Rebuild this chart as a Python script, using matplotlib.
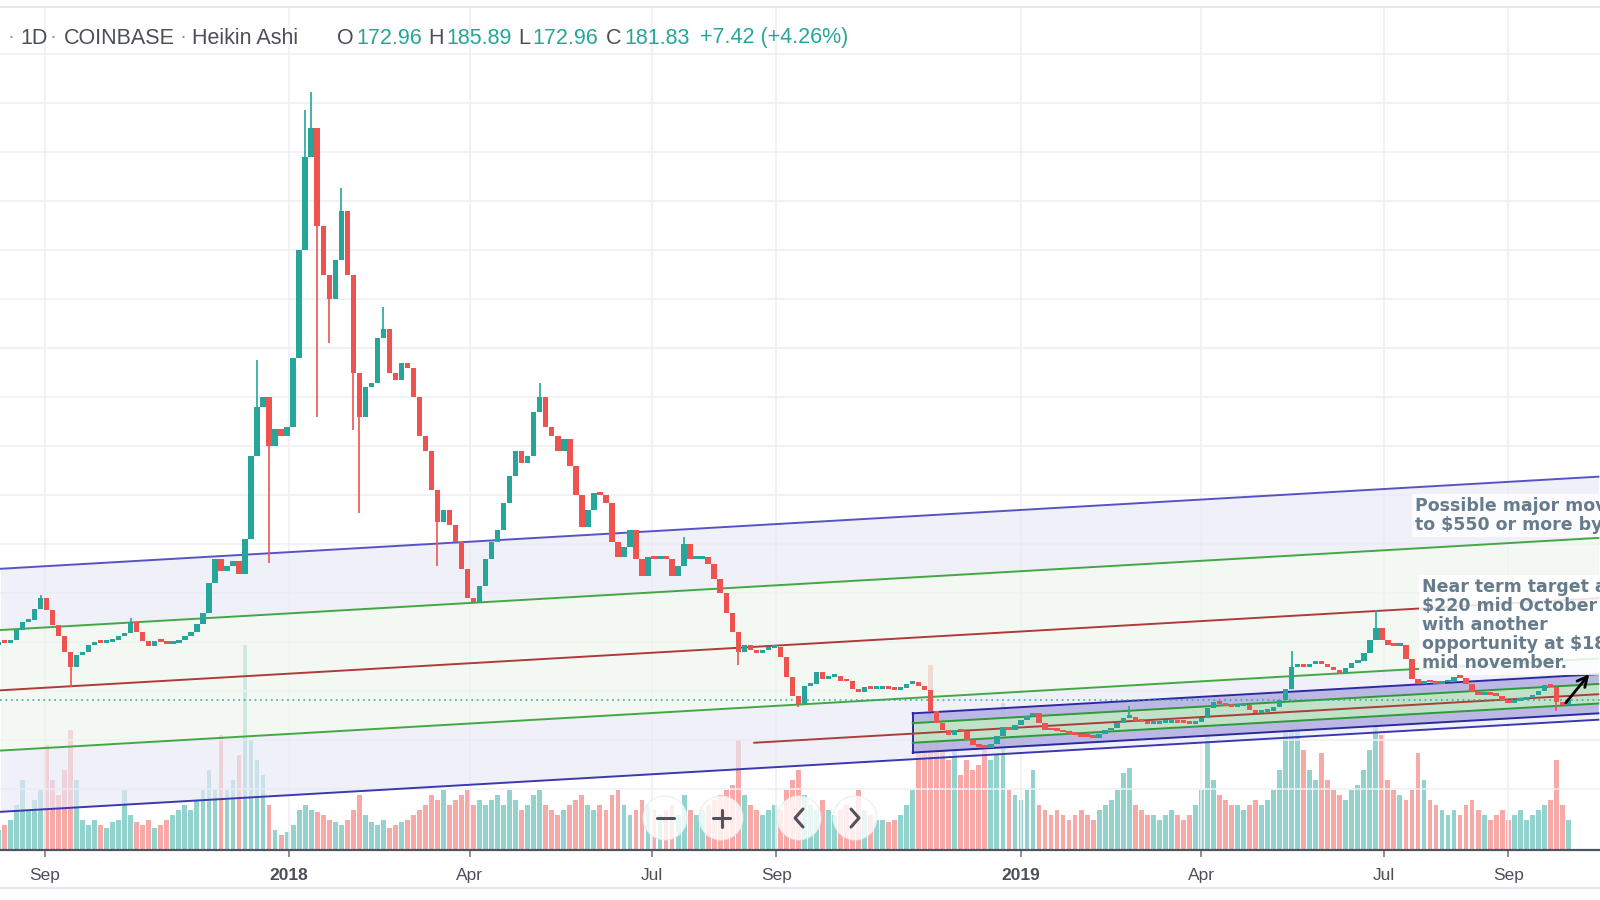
import numpy as np
import pandas as pd
import matplotlib
matplotlib.use("Agg")
import matplotlib.pyplot as plt
import matplotlib.dates as mdates
from matplotlib.patches import Circle

# ETHUSD daily Heikin Ashi (COINBASE), every 3 days
start = "2017-08-09"
step_days = 3
first_open = 295
closes = [
    300, 298, 305, 325, 342, 345, 368, 390, 365, 335,
    312, 280, 250, 275, 280, 295, 300, 298, 300, 305,
    312, 318, 342, 322, 302, 292, 303, 300, 297, 298,
    305, 312, 322, 338, 360, 420, 470, 445, 455, 465,
    440, 510, 680, 780, 800, 700, 735, 720, 740, 880,
    1100, 1290, 1350, 1150, 1050, 1000, 1080, 1180, 1050, 850,
    760, 820, 830, 920, 940, 850, 835, 870, 860, 800,
    720, 690, 610, 545, 570, 540, 505, 450, 390, 383,
    415, 470, 505, 530, 585, 640, 690, 665, 680, 770,
    800, 740, 720, 690, 715, 660, 600, 535, 570, 605,
    600, 585, 505, 475, 495, 530, 470, 435, 475, 470,
    475, 470, 435, 455, 500, 470, 470, 475, 460, 430,
    400, 360, 320, 280, 295, 285, 278, 285, 288, 290,
    270, 230, 190, 175, 210, 215, 240, 225, 230, 232,
    222, 220, 205, 198, 208, 205, 205, 205, 204, 203,
    207, 214, 218, 210, 203, 160, 135, 120, 110, 120,
    118, 100, 90, 87, 85, 93, 108, 128, 122, 132,
    142, 150, 155, 135, 122, 120, 119, 116, 112, 110,
    107, 106, 105, 112, 120, 125, 135, 145, 148, 140,
    137, 134, 134, 135, 136, 138, 136, 135, 134, 138,
    145, 165, 178, 175, 170, 168, 170, 172, 162, 155,
    157, 160, 168, 182, 205, 250, 255, 250, 255, 262,
    255, 250, 243, 237, 248, 257, 262, 278, 305, 330,
    305, 295, 292, 295, 265, 225, 215, 222, 218, 215,
    218, 222, 230, 228, 215, 198, 192, 195, 193, 190,
    182, 176, 180, 183, 186, 192, 200, 212, 208, 178,
    172.96, 181.83,
]
volume = [
    20, 25, 30, 45, 70, 40, 50, 60, 105, 70,
    55, 80, 120, 70, 30, 25, 30, 25, 22, 28,
    30, 60, 35, 28, 25, 30, 22, 25, 30, 35,
    40, 45, 40, 50, 60, 80, 60, 115, 60, 70,
    95, 205, 110, 90, 75, 45, 20, 15, 18, 25,
    40, 45, 40, 38, 35, 30, 28, 25, 30, 40,
    55, 35, 28, 25, 30, 22, 25, 28, 30, 35,
    40, 45, 55, 50, 60, 45, 50, 55, 60, 45,
    50, 45, 50, 55, 45, 60, 50, 40, 45, 55,
    60, 45, 40, 35, 40, 45, 50, 55, 45, 40,
    45, 40, 55, 60, 45, 35, 40, 50, 45, 40,
    35, 40, 45, 35, 55, 40, 35, 40, 45, 50,
    55, 60, 65, 110, 55, 45, 40, 35, 40, 45,
    40, 60, 70, 80, 55, 45, 40, 50, 40, 35,
    40, 45, 40, 60, 40, 35, 30, 30, 28, 30,
    35, 45, 60, 120, 110, 185, 130, 100, 90, 110,
    75, 90, 80, 85, 100, 90, 95, 147, 60, 55,
    50, 60, 80, 45, 40, 35, 40, 35, 30, 35,
    40, 35, 30, 40, 45, 50, 60, 77, 82, 45,
    40, 35, 35, 30, 35, 40, 35, 30, 35, 45,
    60, 120, 70, 55, 50, 45, 45, 40, 45, 50,
    45, 50, 60, 80, 120, 177, 130, 100, 80, 70,
    97, 70, 60, 55, 50, 60, 65, 80, 100, 130,
    115, 70, 60, 55, 50, 60, 97, 70, 50, 45,
    40, 35, 40, 35, 45, 50, 40, 35, 30, 35,
    40, 30, 35, 40, 30, 35, 40, 45, 50, 90,
    45, 30,
]
# long wicks (candle index, price)
wick_hi = [(7, 397), (22, 349), (43, 876), (51, 1386), (52, 1423), (57, 1227),
           (64, 984), (90, 829), (114, 515), (188, 170), (215, 282), (229, 365),
           (261, 185.89)]
wick_lo = [(12, 209), (45, 461), (53, 760), (55, 910), (59, 733), (60, 564),
           (73, 455), (123, 254), (133, 168), (259, 160)]

# channels: (start, end) dates, centre line prices and band offsets
big_dates = ["2017-08-10", "2019-10-16"]
big_mid = [202, 390]
big_offsets = [248, 123, 0, -123, -248]
small_dates = ["2018-11-08", "2019-10-16"]
small_mid = [114, 194]
small_offsets = [41, 21, -19, -39]
small_red_dates = ["2018-08-21", "2019-10-16"]
small_red = [95, 194]
last_price = 181.83

tick_dates = ["2017-09-01", "2018-01-01", "2018-04-01", "2018-07-01", "2018-09-01",
              "2019-01-01", "2019-04-01", "2019-07-01", "2019-09-01"]
tick_labels = ["Sep", "2018", "Apr", "Jul", "Sep", "2019", "Apr", "Jul", "Sep"]

GREEN = "#26a69a"
RED = "#ef5350"

dates = pd.date_range(start, periods=len(closes), freq=f"{step_days}D")
x = mdates.date2num(dates)
c = np.array(closes, dtype=float)
o = np.r_[first_open, c[:-1]]
hi = np.maximum(o, c)
lo = np.minimum(o, c)
for i, v in wick_hi:
    hi[i] = v
for i, v in wick_lo:
    lo[i] = v
up = c >= o
col = np.where(up, GREEN, RED)
vcol = np.where(up, "#92d3cd", "#f6a9a7")

fig = plt.figure(figsize=(16, 9), dpi=100)
ax = fig.add_axes([0, 50 / 900, 1, 843 / 900])
axv = ax.twinx()
ax.set_zorder(axv.get_zorder() + 1)
ax.patch.set_visible(False)

# volume
axv.bar(x, volume, width=2.4, color=vcol, linewidth=0)
axv.set_ylim(0, 843)
axv.set_yticks([])
for s in axv.spines.values():
    s.set_visible(False)

# big channel
bt = mdates.date2num(pd.to_datetime(big_dates))
bm = np.array(big_mid, dtype=float)
lev = [bm + off for off in big_offsets]
ax.fill_between(bt, lev[0], lev[1], color="#e9e9f6", alpha=0.65, lw=0, zorder=1)
ax.fill_between(bt, lev[1], lev[3], color="#edf6ec", alpha=0.65, lw=0, zorder=1)
ax.fill_between(bt, lev[3], lev[4], color="#e9e9f6", alpha=0.65, lw=0, zorder=1)
for lv, cc in zip(lev, ["#5853c4", "#43a843", "#b03a3a", "#43a843", "#3c38b0"]):
    ax.plot(bt, lv, color=cc, lw=1.4, zorder=2)

# small channel
st = mdates.date2num(pd.to_datetime(small_dates))
sm = np.array(small_mid, dtype=float)
sl = [sm + off for off in small_offsets]
ax.fill_between(st, sl[0], sl[3], color="#b3afe2", alpha=0.85, lw=0, zorder=1.5)
ax.fill_between(st, sl[1], sl[2], color="#c2e4c7", alpha=0.95, lw=0, zorder=1.6)
ax.plot(st, sl[0], color="#2d2aa0", lw=1.4, zorder=2)
ax.plot(st, sl[3], color="#2d2aa0", lw=1.4, zorder=2)
ax.plot([st[0], st[0]], [sl[0][0], sl[3][0]], color="#2d2aa0", lw=1.4, zorder=2)
ax.plot(st, sl[1], color="#2f9a36", lw=1.4, zorder=2)
ax.plot(st, sl[2], color="#2f9a36", lw=1.4, zorder=2)
rt = mdates.date2num(pd.to_datetime(small_red_dates))
ax.plot(rt, small_red, color="#a8403a", lw=1.4, zorder=2)

ax.axhline(last_price, color=GREEN, ls=(0, (1, 2)), lw=1.3, alpha=0.8, zorder=2.5)

# candles
body_lo = np.minimum(o, c)
ax.vlines(x, lo, hi, color=col, lw=1.2, zorder=3)
ax.bar(x, np.maximum(np.abs(c - o), 6), bottom=body_lo,
       width=2.7, color=col, linewidth=0, zorder=4)

# axes
x0 = mdates.date2num(pd.Timestamp("2019-01-01"))
ax.set_xlim(x0 - 509.2, x0 + 288.8)
ax.set_ylim(-123.9, 1596.5)
ax.set_yticks(np.arange(0, 1600, 100))
ax.set_yticklabels([])
ax.tick_params(axis="y", length=0)
ax.set_xticks(mdates.date2num(pd.to_datetime(tick_dates)))
ax.set_xticklabels(tick_labels, fontsize=12.5, color="#4c4f58", family="Liberation Sans")
for t in ax.get_xticklabels():
    if t.get_text().isdigit():
        t.set_fontweight("bold")
ax.tick_params(axis="x", direction="out", length=5, width=1.2, color="#787b86", pad=8)
ax.grid(True, color="#eceff5", lw=1.1)
ax.set_axisbelow(True)
for side in ["left", "right"]:
    ax.spines[side].set_visible(False)
ax.spines["bottom"].set_color("#50535e")
ax.spines["bottom"].set_linewidth(1.6)
ax.spines["top"].set_color("#e0e3eb")
ax.spines["top"].set_linewidth(1.2)

# overlay in pixel coords: legend, notes, arrows, nav buttons
ui = fig.add_axes([0, 0, 1, 1])
ui.set_xlim(0, 1600)
ui.set_ylim(900, 0)
ui.axis("off")
ui.set_zorder(ax.get_zorder() + 1)

ui.plot([0, 1600], [888, 888], color="#e0e3eb", lw=1.2)

hdr = dict(fontsize=15.5, va="center", family="Liberation Sans")
for px, s, cc in [(8, "·", "#9598a1"), (20, "1D", "#4c4f58"), (50, "·", "#9598a1"),
                  (64, "COINBASE", "#4c4f58"), (180, "·", "#9598a1"),
                  (192, "Heikin Ashi", "#4c4f58"),
                  (337, "O", "#4c4f58"), (356, "172.96", GREEN),
                  (428, "H", "#4c4f58"), (446, "185.89", GREEN),
                  (518, "L", "#4c4f58"), (532, "172.96", GREEN),
                  (606, "C", "#4c4f58"), (624, "181.83", GREEN),
                  (700, "+7.42 (+4.26%)", GREEN)]:
    ui.text(px, 38, s, color=cc, **hdr)

note = dict(fontsize=12.5, fontweight="bold", color="#667b8c", family="DejaVu Sans",
            va="top", ha="left", linespacing=1.08,
            bbox=dict(facecolor="white", alpha=0.85, edgecolor="none", pad=2))
ui.text(1415, 497, "Possible major move\nto $550 or more by", **note)
ui.text(1422, 578, "Near term target at\n$220 mid October\nwith another\nopportunity at $180\nmid november.", **note)

arrow = dict(arrowstyle="->", color="black", lw=2, mutation_scale=18)
ui.annotate("", xy=(1591, 672), xytext=(1564, 705), arrowprops=arrow)
ui.annotate("", xy=(1628, 716), xytext=(1593, 681), arrowprops=arrow)

btn = "#50535e"
for cx in [665, 721, 799, 855]:
    ui.add_patch(Circle((cx, 818), 22, facecolor="white", alpha=0.8,
                        edgecolor="#e6e8ee", lw=0.8))
ui.plot([657, 674], [818, 818], color=btn, lw=2.2, solid_capstyle="round")
ui.plot([713, 730], [818, 818], color=btn, lw=2.2, solid_capstyle="round")
ui.plot([721.5, 721.5], [810, 827], color=btn, lw=2.2, solid_capstyle="round")
ui.plot([803, 795, 803], [809, 818, 827], color=btn, lw=2.2, solid_capstyle="round")
ui.plot([851, 859, 851], [809, 818, 827], color=btn, lw=2.2, solid_capstyle="round")

fig.savefig("out.png", dpi=100, facecolor="white")
